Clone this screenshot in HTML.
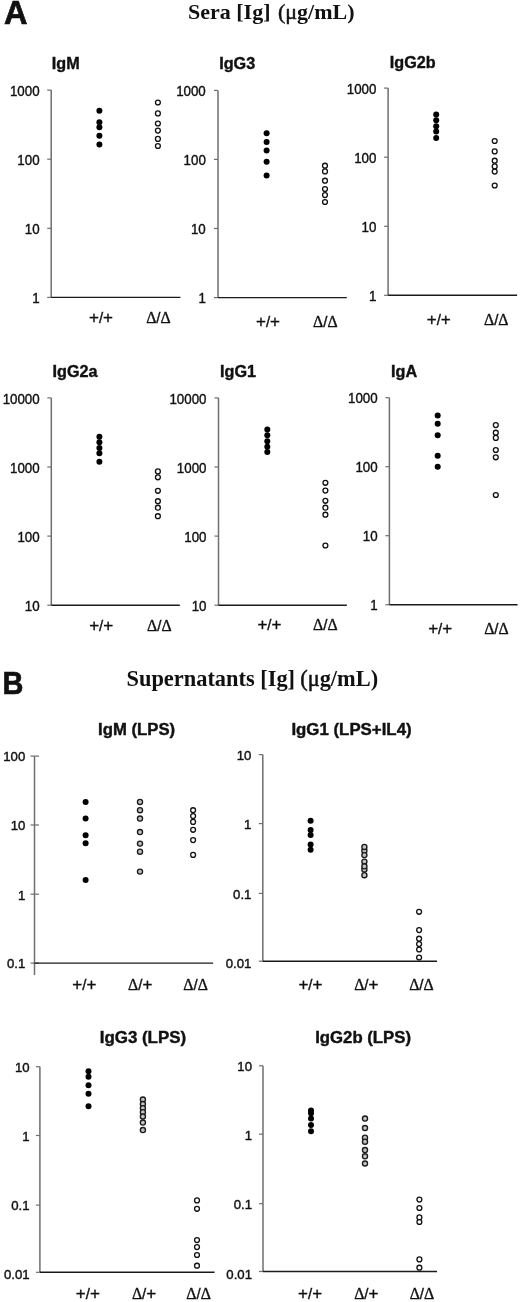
<!DOCTYPE html>
<html><head><meta charset="utf-8"><title>Figure</title>
<style>
html,body{margin:0;padding:0;background:#fff;width:520px;height:1302px;overflow:hidden}
svg{display:block}
.tk{font-family:"Liberation Sans", Arial, sans-serif;font-size:14px;fill:#111;text-anchor:end;stroke:#111;stroke-width:0.4}
.tt{font-family:"Liberation Sans", Arial, sans-serif;font-size:16.2px;font-weight:bold;fill:#111;stroke:#111;stroke-width:0.4}
.gl{font-family:"Liberation Sans", Arial, sans-serif;font-size:15px;fill:#111;text-anchor:middle;stroke:#111;stroke-width:0.35}
.pl{font-size:17px}
.dl{font-family:"Liberation Serif", "Times New Roman", serif;font-size:15.8px}
.big{font-family:"Liberation Sans", Arial, sans-serif;font-size:32.5px;font-weight:bold;fill:#111;stroke:#111;stroke-width:0.7}
.mu{font-family:"Liberation Serif", "Times New Roman", serif;font-weight:normal;stroke:#111;stroke-width:0.5}
.hd{font-family:"Liberation Serif", "Times New Roman", serif;font-size:21.5px;font-weight:bold;fill:#111}
</style></head>
<body>
<svg width="520" height="1302" viewBox="0 0 520 1302">
<rect width="520" height="1302" fill="#fff"/>
<text x="4" y="23.8" class="big">A</text>
<text x="188" y="19.3" class="hd" style="font-size:22px">Sera [Ig] <tspan dx="2" class="mu">(μ</tspan>g/mL)</text>
<text transform="translate(2.6,693.7) scale(0.92,1)" class="big" style="font-size:31.5px">B</text>
<text x="126.5" y="685.7" class="hd" style="font-size:22.4px">Supernatants [Ig] <tspan dx="-0.5" class="mu">(μ</tspan>g/mL)</text>
<line x1="51.2" y1="90.1" x2="51.2" y2="297.4" stroke="#6e6e6e" stroke-width="1.5"/>
<line x1="47.2" y1="90.1" x2="51.2" y2="90.1" stroke="#6e6e6e" stroke-width="1.2"/>
<text transform="translate(39.60,95.76) scale(0.92,1)" class="tk" style="font-size:14.5px">1000</text>
<line x1="47.2" y1="159.2" x2="51.2" y2="159.2" stroke="#6e6e6e" stroke-width="1.2"/>
<text transform="translate(39.60,164.87) scale(0.92,1)" class="tk" style="font-size:14.5px">100</text>
<line x1="47.2" y1="228.3" x2="51.2" y2="228.3" stroke="#6e6e6e" stroke-width="1.2"/>
<text transform="translate(39.60,233.97) scale(0.92,1)" class="tk" style="font-size:14.5px">10</text>
<line x1="47.2" y1="297.4" x2="51.2" y2="297.4" stroke="#6e6e6e" stroke-width="1.2"/>
<text transform="translate(39.60,303.06) scale(0.92,1)" class="tk" style="font-size:14.5px">1</text>
<line x1="51.2" y1="297.4" x2="180.4" y2="297.4" stroke="#1a1a1a" stroke-width="1.4"/>
<text transform="translate(51.8,68.6) scale(1.0,1)" class="tt">IgM</text>
<circle cx="99.4" cy="110.8" r="3.0" fill="#000"/>
<circle cx="99.4" cy="122.2" r="3.0" fill="#000"/>
<circle cx="99.4" cy="127.3" r="3.0" fill="#000"/>
<circle cx="99.4" cy="135.8" r="3.0" fill="#000"/>
<circle cx="99.4" cy="144.5" r="3.0" fill="#000"/>
<circle cx="157.9" cy="102.5" r="2.45" fill="#fff" stroke="#111" stroke-width="1.3"/>
<circle cx="157.9" cy="113.4" r="2.45" fill="#fff" stroke="#111" stroke-width="1.3"/>
<circle cx="157.9" cy="123.5" r="2.45" fill="#fff" stroke="#111" stroke-width="1.3"/>
<circle cx="157.9" cy="130.6" r="2.45" fill="#fff" stroke="#111" stroke-width="1.3"/>
<circle cx="157.9" cy="138.9" r="2.45" fill="#fff" stroke="#111" stroke-width="1.3"/>
<circle cx="157.9" cy="146" r="2.45" fill="#fff" stroke="#111" stroke-width="1.3"/>
<text x="101" y="322.5" class="gl"><tspan class="pl">+</tspan>/<tspan class="pl">+</tspan></text>
<text x="158.45" y="322.5" class="gl"><tspan class="dl">Δ</tspan>/<tspan class="dl">Δ</tspan></text>
<line x1="218.0" y1="90.4" x2="218.0" y2="297.6" stroke="#6e6e6e" stroke-width="1.5"/>
<line x1="214.0" y1="90.4" x2="218.0" y2="90.4" stroke="#6e6e6e" stroke-width="1.2"/>
<text transform="translate(205.80,96.06) scale(0.92,1)" class="tk" style="font-size:14.5px">1000</text>
<line x1="214.0" y1="159.4" x2="218.0" y2="159.4" stroke="#6e6e6e" stroke-width="1.2"/>
<text transform="translate(205.80,165.07) scale(0.92,1)" class="tk" style="font-size:14.5px">100</text>
<line x1="214.0" y1="228.5" x2="218.0" y2="228.5" stroke="#6e6e6e" stroke-width="1.2"/>
<text transform="translate(205.80,234.17) scale(0.92,1)" class="tk" style="font-size:14.5px">10</text>
<line x1="214.0" y1="297.6" x2="218.0" y2="297.6" stroke="#6e6e6e" stroke-width="1.2"/>
<text transform="translate(205.80,303.27) scale(0.92,1)" class="tk" style="font-size:14.5px">1</text>
<line x1="218.0" y1="297.6" x2="346.8" y2="297.6" stroke="#1a1a1a" stroke-width="1.4"/>
<text transform="translate(219.2,68.5) scale(1.0,1)" class="tt">IgG3</text>
<circle cx="266.6" cy="133.3" r="3.0" fill="#000"/>
<circle cx="266.6" cy="142" r="3.0" fill="#000"/>
<circle cx="266.6" cy="150.6" r="3.0" fill="#000"/>
<circle cx="266.6" cy="161.7" r="3.0" fill="#000"/>
<circle cx="266.6" cy="175.4" r="3.0" fill="#000"/>
<circle cx="325" cy="165.7" r="2.45" fill="#fff" stroke="#111" stroke-width="1.3"/>
<circle cx="325" cy="171.4" r="2.45" fill="#fff" stroke="#111" stroke-width="1.3"/>
<circle cx="325" cy="180.7" r="2.45" fill="#fff" stroke="#111" stroke-width="1.3"/>
<circle cx="325" cy="189" r="2.45" fill="#fff" stroke="#111" stroke-width="1.3"/>
<circle cx="325" cy="195.1" r="2.45" fill="#fff" stroke="#111" stroke-width="1.3"/>
<circle cx="325" cy="202" r="2.45" fill="#fff" stroke="#111" stroke-width="1.3"/>
<text x="268" y="327" class="gl"><tspan class="pl">+</tspan>/<tspan class="pl">+</tspan></text>
<text x="325.3" y="327" class="gl"><tspan class="dl">Δ</tspan>/<tspan class="dl">Δ</tspan></text>
<line x1="388.1" y1="88.1" x2="388.1" y2="295.3" stroke="#6e6e6e" stroke-width="1.5"/>
<line x1="384.1" y1="88.1" x2="388.1" y2="88.1" stroke="#6e6e6e" stroke-width="1.2"/>
<text transform="translate(376.40,93.76) scale(0.92,1)" class="tk" style="font-size:14.5px">1000</text>
<line x1="384.1" y1="157.2" x2="388.1" y2="157.2" stroke="#6e6e6e" stroke-width="1.2"/>
<text transform="translate(376.40,162.87) scale(0.92,1)" class="tk" style="font-size:14.5px">100</text>
<line x1="384.1" y1="226.3" x2="388.1" y2="226.3" stroke="#6e6e6e" stroke-width="1.2"/>
<text transform="translate(376.40,231.97) scale(0.92,1)" class="tk" style="font-size:14.5px">10</text>
<line x1="384.1" y1="295.3" x2="388.1" y2="295.3" stroke="#6e6e6e" stroke-width="1.2"/>
<text transform="translate(376.40,300.97) scale(0.92,1)" class="tk" style="font-size:14.5px">1</text>
<line x1="388.1" y1="295.3" x2="517.1" y2="295.3" stroke="#1a1a1a" stroke-width="1.4"/>
<text transform="translate(389.8,68.3) scale(1.0,1)" class="tt">IgG2b</text>
<circle cx="436.2" cy="114.5" r="3.0" fill="#000"/>
<circle cx="436.2" cy="120.2" r="3.0" fill="#000"/>
<circle cx="436.2" cy="126.3" r="3.0" fill="#000"/>
<circle cx="436.2" cy="131.5" r="3.0" fill="#000"/>
<circle cx="436.2" cy="138" r="3.0" fill="#000"/>
<circle cx="494.7" cy="141" r="2.45" fill="#fff" stroke="#111" stroke-width="1.3"/>
<circle cx="494.7" cy="151.4" r="2.45" fill="#fff" stroke="#111" stroke-width="1.3"/>
<circle cx="494.7" cy="160.7" r="2.45" fill="#fff" stroke="#111" stroke-width="1.3"/>
<circle cx="494.7" cy="166.4" r="2.45" fill="#fff" stroke="#111" stroke-width="1.3"/>
<circle cx="494.7" cy="171.6" r="2.45" fill="#fff" stroke="#111" stroke-width="1.3"/>
<circle cx="494.7" cy="185.5" r="2.45" fill="#fff" stroke="#111" stroke-width="1.3"/>
<text x="438.75" y="325" class="gl"><tspan class="pl">+</tspan>/<tspan class="pl">+</tspan></text>
<text x="496.25" y="325" class="gl"><tspan class="dl">Δ</tspan>/<tspan class="dl">Δ</tspan></text>
<line x1="51.3" y1="397.9" x2="51.3" y2="605.2" stroke="#6e6e6e" stroke-width="1.5"/>
<line x1="47.3" y1="397.9" x2="51.3" y2="397.9" stroke="#6e6e6e" stroke-width="1.2"/>
<text transform="translate(39.70,403.56) scale(0.92,1)" class="tk" style="font-size:14.5px">10000</text>
<line x1="47.3" y1="467" x2="51.3" y2="467" stroke="#6e6e6e" stroke-width="1.2"/>
<text transform="translate(39.70,472.67) scale(0.92,1)" class="tk" style="font-size:14.5px">1000</text>
<line x1="47.3" y1="536.1" x2="51.3" y2="536.1" stroke="#6e6e6e" stroke-width="1.2"/>
<text transform="translate(39.70,541.76) scale(0.92,1)" class="tk" style="font-size:14.5px">100</text>
<line x1="47.3" y1="605.2" x2="51.3" y2="605.2" stroke="#6e6e6e" stroke-width="1.2"/>
<text transform="translate(39.70,610.87) scale(0.92,1)" class="tk" style="font-size:14.5px">10</text>
<line x1="51.3" y1="605.2" x2="179.8" y2="605.2" stroke="#1a1a1a" stroke-width="1.4"/>
<text transform="translate(52.6,376.5) scale(1.0,1)" class="tt">IgG2a</text>
<circle cx="99.4" cy="436.8" r="3.0" fill="#000"/>
<circle cx="99.4" cy="442.3" r="3.0" fill="#000"/>
<circle cx="99.4" cy="448" r="3.0" fill="#000"/>
<circle cx="99.4" cy="453.2" r="3.0" fill="#000"/>
<circle cx="99.4" cy="461.7" r="3.0" fill="#000"/>
<circle cx="157.9" cy="471.4" r="2.45" fill="#fff" stroke="#111" stroke-width="1.3"/>
<circle cx="157.9" cy="477.3" r="2.45" fill="#fff" stroke="#111" stroke-width="1.3"/>
<circle cx="157.9" cy="490.8" r="2.45" fill="#fff" stroke="#111" stroke-width="1.3"/>
<circle cx="157.9" cy="501.2" r="2.45" fill="#fff" stroke="#111" stroke-width="1.3"/>
<circle cx="157.9" cy="507.7" r="2.45" fill="#fff" stroke="#111" stroke-width="1.3"/>
<circle cx="157.9" cy="516.2" r="2.45" fill="#fff" stroke="#111" stroke-width="1.3"/>
<text x="101.15" y="630.5" class="gl"><tspan class="pl">+</tspan>/<tspan class="pl">+</tspan></text>
<text x="159.3" y="630.5" class="gl"><tspan class="dl">Δ</tspan>/<tspan class="dl">Δ</tspan></text>
<line x1="218.5" y1="397.9" x2="218.5" y2="605.2" stroke="#6e6e6e" stroke-width="1.5"/>
<line x1="214.5" y1="397.9" x2="218.5" y2="397.9" stroke="#6e6e6e" stroke-width="1.2"/>
<text transform="translate(206.50,403.56) scale(0.92,1)" class="tk" style="font-size:14.5px">10000</text>
<line x1="214.5" y1="467" x2="218.5" y2="467" stroke="#6e6e6e" stroke-width="1.2"/>
<text transform="translate(206.50,472.67) scale(0.92,1)" class="tk" style="font-size:14.5px">1000</text>
<line x1="214.5" y1="536.1" x2="218.5" y2="536.1" stroke="#6e6e6e" stroke-width="1.2"/>
<text transform="translate(206.50,541.76) scale(0.92,1)" class="tk" style="font-size:14.5px">100</text>
<line x1="214.5" y1="605.2" x2="218.5" y2="605.2" stroke="#6e6e6e" stroke-width="1.2"/>
<text transform="translate(206.50,610.87) scale(0.92,1)" class="tk" style="font-size:14.5px">10</text>
<line x1="218.5" y1="605.2" x2="346.8" y2="605.2" stroke="#1a1a1a" stroke-width="1.4"/>
<text transform="translate(220.0,376.5) scale(1.0,1)" class="tt">IgG1</text>
<circle cx="267.3" cy="429.5" r="3.0" fill="#000"/>
<circle cx="267.3" cy="435.2" r="3.0" fill="#000"/>
<circle cx="267.3" cy="441.3" r="3.0" fill="#000"/>
<circle cx="267.3" cy="446.8" r="3.0" fill="#000"/>
<circle cx="267.3" cy="452" r="3.0" fill="#000"/>
<circle cx="325.4" cy="482.8" r="2.45" fill="#fff" stroke="#111" stroke-width="1.3"/>
<circle cx="325.4" cy="490.6" r="2.45" fill="#fff" stroke="#111" stroke-width="1.3"/>
<circle cx="325.4" cy="500.8" r="2.45" fill="#fff" stroke="#111" stroke-width="1.3"/>
<circle cx="325.4" cy="507.7" r="2.45" fill="#fff" stroke="#111" stroke-width="1.3"/>
<circle cx="325.4" cy="514.7" r="2.45" fill="#fff" stroke="#111" stroke-width="1.3"/>
<circle cx="325.4" cy="545.5" r="2.45" fill="#fff" stroke="#111" stroke-width="1.3"/>
<text x="269.45" y="630" class="gl"><tspan class="pl">+</tspan>/<tspan class="pl">+</tspan></text>
<text x="325.3" y="630" class="gl"><tspan class="dl">Δ</tspan>/<tspan class="dl">Δ</tspan></text>
<line x1="389.4" y1="397.7" x2="389.4" y2="604.7" stroke="#6e6e6e" stroke-width="1.5"/>
<line x1="385.4" y1="397.7" x2="389.4" y2="397.7" stroke="#6e6e6e" stroke-width="1.2"/>
<text transform="translate(377.70,403.37) scale(0.92,1)" class="tk" style="font-size:14.5px">1000</text>
<line x1="385.4" y1="466.7" x2="389.4" y2="466.7" stroke="#6e6e6e" stroke-width="1.2"/>
<text transform="translate(377.70,472.37) scale(0.92,1)" class="tk" style="font-size:14.5px">100</text>
<line x1="385.4" y1="535.7" x2="389.4" y2="535.7" stroke="#6e6e6e" stroke-width="1.2"/>
<text transform="translate(377.70,541.37) scale(0.92,1)" class="tk" style="font-size:14.5px">10</text>
<line x1="385.4" y1="604.7" x2="389.4" y2="604.7" stroke="#6e6e6e" stroke-width="1.2"/>
<text transform="translate(377.70,610.37) scale(0.92,1)" class="tk" style="font-size:14.5px">1</text>
<line x1="389.4" y1="604.7" x2="517.6" y2="604.7" stroke="#1a1a1a" stroke-width="1.4"/>
<text transform="translate(391.1,376.5) scale(1.0,1)" class="tt">IgA</text>
<circle cx="437.7" cy="415.4" r="3.0" fill="#000"/>
<circle cx="437.7" cy="423.7" r="3.0" fill="#000"/>
<circle cx="437.7" cy="435.3" r="3.0" fill="#000"/>
<circle cx="437.7" cy="455.7" r="3.0" fill="#000"/>
<circle cx="437.7" cy="466.8" r="3.0" fill="#000"/>
<circle cx="495.8" cy="425.1" r="2.45" fill="#fff" stroke="#111" stroke-width="1.3"/>
<circle cx="495.8" cy="432.7" r="2.45" fill="#fff" stroke="#111" stroke-width="1.3"/>
<circle cx="495.8" cy="437.9" r="2.45" fill="#fff" stroke="#111" stroke-width="1.3"/>
<circle cx="495.8" cy="450" r="2.45" fill="#fff" stroke="#111" stroke-width="1.3"/>
<circle cx="495.8" cy="457.3" r="2.45" fill="#fff" stroke="#111" stroke-width="1.3"/>
<circle cx="495.8" cy="495" r="2.45" fill="#fff" stroke="#111" stroke-width="1.3"/>
<text x="440.2" y="634" class="gl"><tspan class="pl">+</tspan>/<tspan class="pl">+</tspan></text>
<text x="496.45" y="634" class="gl"><tspan class="dl">Δ</tspan>/<tspan class="dl">Δ</tspan></text>
<line x1="34.5" y1="756.1" x2="34.5" y2="975.1" stroke="#6e6e6e" stroke-width="1.5"/>
<line x1="30.5" y1="756.1" x2="39.0" y2="756.1" stroke="#6e6e6e" stroke-width="1.2"/>
<text transform="translate(25.30,761.48) scale(1,1)" class="tk" style="font-size:13.2px">100</text>
<line x1="30.5" y1="825" x2="39.0" y2="825" stroke="#6e6e6e" stroke-width="1.2"/>
<text transform="translate(25.30,830.38) scale(1,1)" class="tk" style="font-size:13.2px">10</text>
<line x1="30.5" y1="894.2" x2="39.0" y2="894.2" stroke="#6e6e6e" stroke-width="1.2"/>
<text transform="translate(25.30,899.58) scale(1,1)" class="tk" style="font-size:13.2px">1</text>
<line x1="30.5" y1="963.1" x2="39.0" y2="963.1" stroke="#6e6e6e" stroke-width="1.2"/>
<text transform="translate(25.30,968.48) scale(1,1)" class="tk" style="font-size:13.2px">0.1</text>
<line x1="34.5" y1="963.1" x2="213.1" y2="963.1" stroke="#1a1a1a" stroke-width="1.4"/>
<text transform="translate(98.1,735.2) scale(1.033,1)" class="tt">IgM (LPS)</text>
<circle cx="85.6" cy="802.1" r="3.0" fill="#000"/>
<circle cx="85.6" cy="818.5" r="3.0" fill="#000"/>
<circle cx="85.6" cy="835.2" r="3.0" fill="#000"/>
<circle cx="85.6" cy="843.3" r="3.0" fill="#000"/>
<circle cx="85.6" cy="879.9" r="3.0" fill="#000"/>
<circle cx="140" cy="801.9" r="2.55" fill="#c2c2c2" stroke="#1a1a1a" stroke-width="1.35"/>
<circle cx="140" cy="810.2" r="2.55" fill="#c2c2c2" stroke="#1a1a1a" stroke-width="1.35"/>
<circle cx="140" cy="818.5" r="2.55" fill="#c2c2c2" stroke="#1a1a1a" stroke-width="1.35"/>
<circle cx="140" cy="832" r="2.55" fill="#c2c2c2" stroke="#1a1a1a" stroke-width="1.35"/>
<circle cx="140" cy="843.6" r="2.55" fill="#c2c2c2" stroke="#1a1a1a" stroke-width="1.35"/>
<circle cx="140" cy="851.7" r="2.55" fill="#c2c2c2" stroke="#1a1a1a" stroke-width="1.35"/>
<circle cx="140" cy="871.6" r="2.55" fill="#c2c2c2" stroke="#1a1a1a" stroke-width="1.35"/>
<circle cx="193.1" cy="810.2" r="2.45" fill="#fff" stroke="#111" stroke-width="1.3"/>
<circle cx="193.1" cy="816.1" r="2.45" fill="#fff" stroke="#111" stroke-width="1.3"/>
<circle cx="193.1" cy="821.9" r="2.45" fill="#fff" stroke="#111" stroke-width="1.3"/>
<circle cx="193.1" cy="829.8" r="2.45" fill="#fff" stroke="#111" stroke-width="1.3"/>
<circle cx="193.1" cy="840.1" r="2.45" fill="#fff" stroke="#111" stroke-width="1.3"/>
<circle cx="193.1" cy="854.9" r="2.45" fill="#fff" stroke="#111" stroke-width="1.3"/>
<text x="84.35" y="990.3" class="gl"><tspan class="pl">+</tspan>/<tspan class="pl">+</tspan></text>
<text x="140.25" y="990.3" class="gl"><tspan class="dl">Δ</tspan>/<tspan class="pl">+</tspan></text>
<text x="195.6" y="990.3" class="gl"><tspan class="dl">Δ</tspan>/<tspan class="dl">Δ</tspan></text>
<line x1="262.8" y1="754.6" x2="262.8" y2="961.2" stroke="#6e6e6e" stroke-width="1.5"/>
<line x1="258.8" y1="754.6" x2="262.8" y2="754.6" stroke="#6e6e6e" stroke-width="1.2"/>
<text transform="translate(251.40,760.18) scale(1,1)" class="tk" style="font-size:13.2px">10</text>
<line x1="258.8" y1="823.6" x2="262.8" y2="823.6" stroke="#6e6e6e" stroke-width="1.2"/>
<text transform="translate(251.40,829.18) scale(1,1)" class="tk" style="font-size:13.2px">1</text>
<line x1="258.8" y1="893.4" x2="262.8" y2="893.4" stroke="#6e6e6e" stroke-width="1.2"/>
<text transform="translate(251.40,898.98) scale(1,1)" class="tk" style="font-size:13.2px">0.1</text>
<line x1="258.8" y1="961.2" x2="262.8" y2="961.2" stroke="#6e6e6e" stroke-width="1.2"/>
<text transform="translate(251.40,967.98) scale(1,1)" class="tk" style="font-size:13.2px">0.01</text>
<line x1="262.8" y1="961.2" x2="437" y2="961.2" stroke="#1a1a1a" stroke-width="1.4"/>
<text transform="translate(291.4,735.4) scale(1.04,1)" class="tt">IgG1 (LPS+IL4)</text>
<circle cx="310.6" cy="820.8" r="3.0" fill="#000"/>
<circle cx="310.6" cy="829.9" r="3.0" fill="#000"/>
<circle cx="310.6" cy="835" r="3.0" fill="#000"/>
<circle cx="310.6" cy="844.5" r="3.0" fill="#000"/>
<circle cx="310.6" cy="849.8" r="3.0" fill="#000"/>
<circle cx="364.4" cy="850.8" r="2.55" fill="#c2c2c2" stroke="#1a1a1a" stroke-width="1.35"/>
<circle cx="364.4" cy="846.9" r="2.55" fill="#c2c2c2" stroke="#1a1a1a" stroke-width="1.35"/>
<circle cx="364.4" cy="855.1" r="2.55" fill="#c2c2c2" stroke="#1a1a1a" stroke-width="1.35"/>
<circle cx="364.4" cy="861.6" r="2.55" fill="#c2c2c2" stroke="#1a1a1a" stroke-width="1.35"/>
<circle cx="364.4" cy="869.5" r="2.55" fill="#c2c2c2" stroke="#1a1a1a" stroke-width="1.35"/>
<circle cx="364.4" cy="866.3" r="2.55" fill="#c2c2c2" stroke="#1a1a1a" stroke-width="1.35"/>
<circle cx="364.4" cy="875.2" r="2.55" fill="#c2c2c2" stroke="#1a1a1a" stroke-width="1.35"/>
<circle cx="419.1" cy="911.8" r="2.45" fill="#fff" stroke="#111" stroke-width="1.3"/>
<circle cx="419.1" cy="930.1" r="2.45" fill="#fff" stroke="#111" stroke-width="1.3"/>
<circle cx="419.1" cy="938.7" r="2.45" fill="#fff" stroke="#111" stroke-width="1.3"/>
<circle cx="419.1" cy="944.1" r="2.45" fill="#fff" stroke="#111" stroke-width="1.3"/>
<circle cx="419.1" cy="949.5" r="2.45" fill="#fff" stroke="#111" stroke-width="1.3"/>
<circle cx="419.1" cy="957.5" r="2.45" fill="#fff" stroke="#111" stroke-width="1.3"/>
<text x="310.4" y="990.3" class="gl"><tspan class="pl">+</tspan>/<tspan class="pl">+</tspan></text>
<text x="366.3" y="990.3" class="gl"><tspan class="dl">Δ</tspan>/<tspan class="pl">+</tspan></text>
<text x="421.45" y="990.3" class="gl"><tspan class="dl">Δ</tspan>/<tspan class="dl">Δ</tspan></text>
<line x1="39.9" y1="1066.7" x2="39.9" y2="1272.3" stroke="#6e6e6e" stroke-width="1.5"/>
<line x1="35.9" y1="1066.7" x2="39.9" y2="1066.7" stroke="#6e6e6e" stroke-width="1.2"/>
<text transform="translate(29.60,1071.88) scale(1,1)" class="tk" style="font-size:13.2px">10</text>
<line x1="35.9" y1="1135.5" x2="39.9" y2="1135.5" stroke="#6e6e6e" stroke-width="1.2"/>
<text transform="translate(29.60,1140.68) scale(1,1)" class="tk" style="font-size:13.2px">1</text>
<line x1="35.9" y1="1205.1" x2="39.9" y2="1205.1" stroke="#6e6e6e" stroke-width="1.2"/>
<text transform="translate(29.60,1210.28) scale(1,1)" class="tk" style="font-size:13.2px">0.1</text>
<line x1="35.9" y1="1272.3" x2="39.9" y2="1272.3" stroke="#6e6e6e" stroke-width="1.2"/>
<text transform="translate(29.60,1279.08) scale(1,1)" class="tk" style="font-size:13.2px">0.01</text>
<line x1="39.9" y1="1272.3" x2="214.6" y2="1272.3" stroke="#1a1a1a" stroke-width="1.4"/>
<text transform="translate(99.7,1042.9) scale(1.045,1)" class="tt">IgG3 (LPS)</text>
<circle cx="88.5" cy="1071.3" r="3.0" fill="#000"/>
<circle cx="88.5" cy="1076.7" r="3.0" fill="#000"/>
<circle cx="88.5" cy="1085.3" r="3.0" fill="#000"/>
<circle cx="88.5" cy="1093.7" r="3.0" fill="#000"/>
<circle cx="88.5" cy="1106.3" r="3.0" fill="#000"/>
<circle cx="142.9" cy="1099.5" r="2.55" fill="#c2c2c2" stroke="#1a1a1a" stroke-width="1.35"/>
<circle cx="142.9" cy="1104.1" r="2.55" fill="#c2c2c2" stroke="#1a1a1a" stroke-width="1.35"/>
<circle cx="142.9" cy="1108.2" r="2.55" fill="#c2c2c2" stroke="#1a1a1a" stroke-width="1.35"/>
<circle cx="142.9" cy="1112.2" r="2.55" fill="#c2c2c2" stroke="#1a1a1a" stroke-width="1.35"/>
<circle cx="142.9" cy="1116.5" r="2.55" fill="#c2c2c2" stroke="#1a1a1a" stroke-width="1.35"/>
<circle cx="142.9" cy="1122.6" r="2.55" fill="#c2c2c2" stroke="#1a1a1a" stroke-width="1.35"/>
<circle cx="142.9" cy="1130.1" r="2.55" fill="#c2c2c2" stroke="#1a1a1a" stroke-width="1.35"/>
<circle cx="197" cy="1200.4" r="2.45" fill="#fff" stroke="#111" stroke-width="1.3"/>
<circle cx="197" cy="1208.8" r="2.45" fill="#fff" stroke="#111" stroke-width="1.3"/>
<circle cx="197" cy="1240.1" r="2.45" fill="#fff" stroke="#111" stroke-width="1.3"/>
<circle cx="197" cy="1247.1" r="2.45" fill="#fff" stroke="#111" stroke-width="1.3"/>
<circle cx="197" cy="1255" r="2.45" fill="#fff" stroke="#111" stroke-width="1.3"/>
<circle cx="197" cy="1265.7" r="2.45" fill="#fff" stroke="#111" stroke-width="1.3"/>
<text x="87.85" y="1298.8" class="gl"><tspan class="pl">+</tspan>/<tspan class="pl">+</tspan></text>
<text x="144.05" y="1298.8" class="gl"><tspan class="dl">Δ</tspan>/<tspan class="pl">+</tspan></text>
<text x="198.6" y="1298.8" class="gl"><tspan class="dl">Δ</tspan>/<tspan class="dl">Δ</tspan></text>
<line x1="263" y1="1065.8" x2="263" y2="1271.5" stroke="#6e6e6e" stroke-width="1.5"/>
<line x1="259" y1="1065.8" x2="263" y2="1065.8" stroke="#6e6e6e" stroke-width="1.2"/>
<text transform="translate(252.00,1071.38) scale(1,1)" class="tk" style="font-size:13.2px">10</text>
<line x1="259" y1="1134.2" x2="263" y2="1134.2" stroke="#6e6e6e" stroke-width="1.2"/>
<text transform="translate(252.00,1139.78) scale(1,1)" class="tk" style="font-size:13.2px">1</text>
<line x1="259" y1="1203.7" x2="263" y2="1203.7" stroke="#6e6e6e" stroke-width="1.2"/>
<text transform="translate(252.00,1209.28) scale(1,1)" class="tk" style="font-size:13.2px">0.1</text>
<line x1="259" y1="1271.5" x2="263" y2="1271.5" stroke="#6e6e6e" stroke-width="1.2"/>
<text transform="translate(252.00,1278.88) scale(1,1)" class="tk" style="font-size:13.2px">0.01</text>
<line x1="263" y1="1271.5" x2="437" y2="1271.5" stroke="#1a1a1a" stroke-width="1.4"/>
<text transform="translate(315.2,1043) scale(1.034,1)" class="tt">IgG2b (LPS)</text>
<circle cx="311" cy="1110.5" r="3.0" fill="#000"/>
<circle cx="311" cy="1113.3" r="3.0" fill="#000"/>
<circle cx="311" cy="1118.5" r="3.0" fill="#000"/>
<circle cx="311" cy="1125" r="3.0" fill="#000"/>
<circle cx="311" cy="1131.2" r="3.0" fill="#000"/>
<circle cx="365" cy="1118.6" r="2.55" fill="#c2c2c2" stroke="#1a1a1a" stroke-width="1.35"/>
<circle cx="365" cy="1128" r="2.55" fill="#c2c2c2" stroke="#1a1a1a" stroke-width="1.35"/>
<circle cx="365" cy="1137.7" r="2.55" fill="#c2c2c2" stroke="#1a1a1a" stroke-width="1.35"/>
<circle cx="365" cy="1141.7" r="2.55" fill="#c2c2c2" stroke="#1a1a1a" stroke-width="1.35"/>
<circle cx="365" cy="1150.1" r="2.55" fill="#c2c2c2" stroke="#1a1a1a" stroke-width="1.35"/>
<circle cx="365" cy="1156.3" r="2.55" fill="#c2c2c2" stroke="#1a1a1a" stroke-width="1.35"/>
<circle cx="365" cy="1163.5" r="2.55" fill="#c2c2c2" stroke="#1a1a1a" stroke-width="1.35"/>
<circle cx="419.4" cy="1199.6" r="2.45" fill="#fff" stroke="#111" stroke-width="1.3"/>
<circle cx="419.4" cy="1208" r="2.45" fill="#fff" stroke="#111" stroke-width="1.3"/>
<circle cx="419.4" cy="1217.4" r="2.45" fill="#fff" stroke="#111" stroke-width="1.3"/>
<circle cx="419.4" cy="1222" r="2.45" fill="#fff" stroke="#111" stroke-width="1.3"/>
<circle cx="419.4" cy="1259.4" r="2.45" fill="#fff" stroke="#111" stroke-width="1.3"/>
<circle cx="419.4" cy="1267.7" r="2.45" fill="#fff" stroke="#111" stroke-width="1.3"/>
<text x="310.1" y="1298.8" class="gl"><tspan class="pl">+</tspan>/<tspan class="pl">+</tspan></text>
<text x="366.3" y="1298.8" class="gl"><tspan class="dl">Δ</tspan>/<tspan class="pl">+</tspan></text>
<text x="421.9" y="1298.8" class="gl"><tspan class="dl">Δ</tspan>/<tspan class="dl">Δ</tspan></text>
</svg>
</body></html>
